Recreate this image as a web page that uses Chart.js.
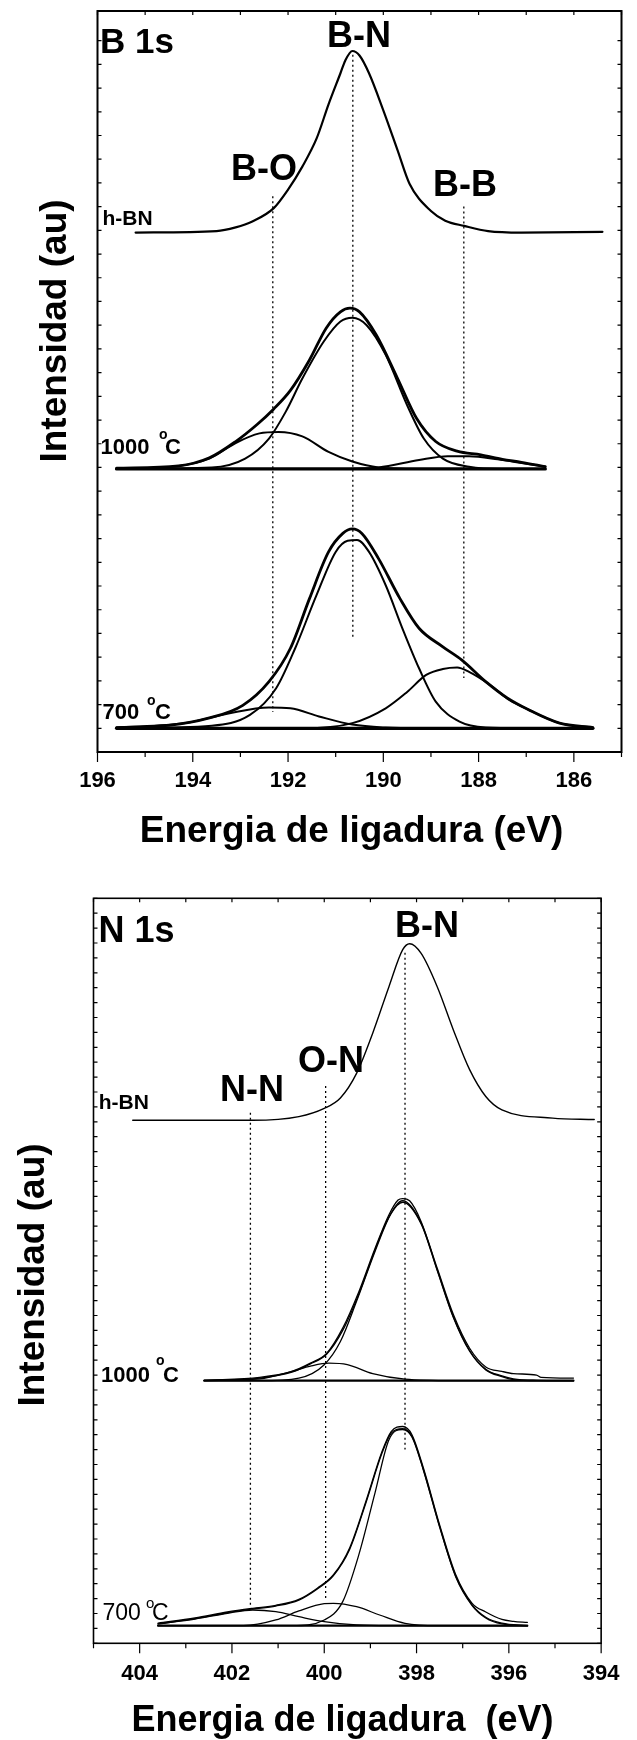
<!DOCTYPE html>
<html>
<head>
<meta charset="utf-8">
<script src="https://cdn.jsdelivr.net/npm/chart.js@4.4.0/dist/chart.umd.min.js"></script>
<style>
  html, body { margin: 0; padding: 0; background: #fff; }
  canvas { display: block; }
</style>
</head>
<body>
<canvas id="b1s" width="637" height="870"></canvas>
<canvas id="n1s" width="637" height="870"></canvas>
<script>
// ---- B 1s (binding energy eV / intensity au, curves stacked) ----
const bHbnE = [195.2, 193.5, 193.1, 192.75, 192.3, 192.0, 191.7, 191.4, 191.15, 190.9, 190.8, 190.65, 190.5, 190.3, 190.0, 189.7, 189.45, 189.0, 188.7, 188.3, 187.8, 187.1, 185.4];
const bHbnI = [70.1, 70.3, 70.8, 71.6, 73.4, 75.9, 79.0, 82.8, 87.4, 91.6, 93.3, 94.6, 94.0, 91.6, 86.6, 81.2, 76.7, 73.0, 71.7, 71.0, 70.3, 70.1, 70.2];

const b1000E = [195.6, 194.3, 193.65, 193.1, 192.65, 192.3, 191.95, 191.55, 191.2, 190.9, 190.7, 190.5, 190.15, 189.7, 189.3, 188.9, 188.45, 187.95, 187.5, 187.1, 186.6];
const b1000I = [38.3, 38.6, 39.7, 41.9, 44.2, 46.3, 48.8, 52.9, 57.2, 59.4, 59.9, 59.4, 56.3, 50.4, 45.0, 41.9, 40.6, 40.1, 39.5, 39.1, 38.5];
const b1000BNE = [195.6, 193.6, 192.9, 192.4, 192.05, 191.7, 191.25, 190.9, 190.65, 190.35, 189.95, 189.5, 189.15, 188.75, 188.2, 187.5, 186.6];
const b1000BNI = [38.2, 38.4, 39.6, 42.3, 45.9, 50.4, 55.4, 58.1, 58.6, 57.6, 53.6, 46.8, 42.3, 39.6, 38.5, 38.2, 38.2];
const b1000BOE = [195.6, 194.85, 193.65, 193.1, 192.6, 192.2, 191.7, 191.15, 190.65, 190.1, 189.25, 186.6];
const b1000BOI = [38.2, 38.3, 39.6, 41.7, 43.0, 43.2, 42.6, 40.5, 39.2, 38.4, 38.2, 38.2];
const b1000BBE = [195.6, 191.0, 190.1, 189.25, 188.65, 188.2, 187.6, 187.1, 186.6];
const b1000BBI = [38.2, 38.2, 38.4, 39.4, 39.9, 39.9, 39.5, 39.0, 38.5];
const b1000BaseE = [195.6, 186.6];
const b1000BaseI = [38.2, 38.2];

const b700E = [195.6, 194.5, 193.65, 192.95, 192.4, 191.95, 191.55, 191.15, 190.85, 190.65, 190.45, 190.1, 189.65, 189.25, 188.75, 188.35, 187.85, 187.4, 186.95, 186.3, 185.6];
const b700I = [3.3, 3.6, 4.6, 6.3, 9.5, 14.0, 20.7, 27.0, 29.5, 30.1, 29.5, 26.1, 20.7, 16.7, 14.2, 12.4, 9.5, 7.3, 5.7, 3.9, 3.3];
const b700BNE = [195.6, 193.6, 192.8, 192.25, 191.85, 191.4, 191.0, 190.75, 190.55, 190.3, 189.95, 189.6, 189.25, 188.9, 188.4, 187.85, 187.1, 185.6];
const b700BNI = [3.2, 3.55, 5.0, 8.6, 14.0, 21.2, 27.0, 28.5, 28.6, 27.0, 22.5, 16.7, 11.3, 6.8, 4.1, 3.3, 3.2, 3.2];
const b700BOE = [195.6, 194.15, 193.25, 192.4, 191.95, 191.35, 190.65, 189.95, 189.25, 185.6];
const b700BOI = [3.3, 3.9, 5.2, 6.0, 5.9, 4.8, 3.7, 3.3, 3.2, 3.2];
const b700BBE = [195.6, 191.7, 190.65, 189.95, 189.5, 189.1, 188.75, 188.45, 188.2, 187.75, 187.35, 186.95, 186.3, 185.6];
const b700BBI = [3.2, 3.2, 3.9, 5.9, 8.1, 10.4, 11.2, 11.4, 10.8, 9.0, 7.0, 5.7, 3.9, 3.3];
const b700BaseE = [195.6, 185.6];
const b700BaseI = [3.2, 3.2];

// dotted reference lines: B-O, B-N, B-B
const bRefE = [192.32, 190.64, 188.31];
const bRefTop = [75.0, 94.1, 73.6];
const bRefBot = [5.4, 15.4, 10.0];

// ---- N 1s ----
const nHbnE = [404.15, 401.55, 400.55, 400.0, 399.65, 399.3, 398.95, 398.6, 398.3, 398.15, 397.9, 397.55, 397.2, 396.85, 396.5, 396.15, 395.05, 394.15];
const nHbnI = [70.2, 70.2, 70.7, 71.8, 73.2, 76.5, 81.9, 88.1, 93.1, 93.9, 92.6, 88.1, 82.3, 77.0, 73.4, 71.6, 70.5, 70.3];

const n1000E = [402.6, 401.4, 400.7, 400.3, 399.95, 399.6, 399.25, 398.9, 398.6, 398.4, 398.3, 398.15, 397.9, 397.55, 397.2, 396.85, 396.5, 396.15, 395.9, 395.4, 395.3, 394.6];
const n1000I = [35.3, 35.7, 36.5, 37.6, 38.9, 42.3, 47.2, 53.0, 57.5, 59.5, 59.7, 59.4, 56.6, 50.3, 44.1, 39.6, 37.1, 36.5, 36.2, 36.0, 35.7, 35.6];
const n1000FitE = [402.6, 401.4, 400.7, 400.3, 399.95, 399.6, 399.25, 398.9, 398.6, 398.3, 397.9, 397.55, 397.2, 396.85, 396.5, 396.15, 395.9, 395.4, 394.6];
const n1000FitI = [35.3, 35.6, 36.4, 37.5, 38.8, 42.0, 46.9, 52.8, 57.2, 59.4, 56.4, 50.1, 43.8, 39.3, 36.8, 35.9, 35.5, 35.3, 35.25];
const n1000BNE = [402.6, 401.4, 400.55, 400.0, 399.65, 399.3, 398.9, 398.55, 398.3, 397.9, 397.55, 397.2, 396.85, 396.5, 396.15, 395.9, 395.4, 394.6];
const n1000BNI = [35.25, 35.25, 35.6, 37.4, 40.5, 45.9, 52.6, 57.7, 59.2, 56.3, 50.0, 43.7, 39.2, 36.7, 35.8, 35.4, 35.25, 35.25];
const n1000ONE = [402.6, 401.4, 400.7, 400.3, 399.9, 399.5, 398.95, 398.25, 397.2, 394.6];
const n1000ONI = [35.25, 35.5, 36.5, 37.2, 37.6, 37.4, 36.2, 35.45, 35.25, 35.25];
const n1000BaseE = [402.6, 394.6];
const n1000BaseI = [35.25, 35.25];

const n700E = [403.6, 402.8, 402.1, 401.55, 401.05, 400.55, 400.15, 399.8, 399.45, 399.1, 398.75, 398.55, 398.3, 398.1, 397.85, 397.5, 397.15, 396.8, 396.5, 396.15, 395.9, 395.6];
const n700I = [2.7, 3.4, 4.2, 4.7, 5.1, 5.9, 7.4, 9.2, 12.8, 19.0, 25.7, 28.4, 29.1, 28.0, 23.5, 15.9, 9.2, 5.4, 4.2, 3.2, 2.95, 2.8];
const n700FitE = [403.6, 402.8, 402.1, 401.55, 401.05, 400.55, 400.15, 399.8, 399.45, 399.1, 398.75, 398.55, 398.3, 398.1, 397.85, 397.5, 397.15, 396.8, 396.5, 396.15, 395.6];
const n700FitI = [2.6, 3.3, 4.1, 4.6, 5.0, 5.8, 7.3, 9.1, 12.6, 18.8, 25.5, 28.2, 28.8, 27.8, 23.3, 15.7, 9.0, 5.2, 3.5, 2.7, 2.36];
const n700NNE = [403.6, 402.8, 402.1, 401.55, 401.05, 400.55, 400.0, 399.3, 398.6, 395.6];
const n700NNI = [2.6, 3.26, 4.03, 4.47, 4.24, 3.57, 2.9, 2.46, 2.36, 2.36];
const n700ONE = [403.6, 401.75, 401.05, 400.55, 400.0, 399.8, 399.3, 398.8, 398.25, 397.55, 395.6];
const n700ONI = [2.36, 2.36, 3.13, 4.34, 5.32, 5.37, 4.91, 3.8, 2.68, 2.36, 2.36];
const n700BNE = [403.6, 400.7, 400.0, 399.6, 399.25, 398.9, 398.6, 398.3, 398.1, 397.85, 397.5, 397.15, 396.8, 396.5, 396.15, 395.6];
const n700BNI = [2.36, 2.36, 3.13, 5.6, 11.9, 20.2, 27.3, 28.7, 27.7, 23.2, 15.6, 8.9, 5.1, 3.4, 2.6, 2.36];
const n700BaseE = [403.6, 395.6];
const n700BaseI = [2.36, 2.36];

// dotted reference lines: N-N, O-N, B-N
const nRefE = [401.6, 399.97, 398.25];
const nRefTop = [71.2, 74.8, 92.7];
const nRefBot = [4.9, 5.8, 26.0];

const fontFam = '"Liberation Sans", Arial, Helvetica, sans-serif';

function series(E, I) {
    return E.map((e, i) => ({ x: e, y: I[i] }));
}

function curve(E, I, w) {
    return {
        data: series(E, I),
        borderColor: '#000',
        borderWidth: w,
        showLine: true,
        pointRadius: 0,
        fill: false,
        cubicInterpolationMode: 'monotone',
        borderCapStyle: 'round',
        borderJoinStyle: 'round'
    };
}

function refLines(E, top, bot) {
    return E.map((e, i) => ({
        data: [{ x: e, y: top[i] }, { x: e, y: bot[i] }],
        borderColor: '#000',
        borderWidth: 1.3,
        borderDash: [2, 3],
        showLine: true,
        pointRadius: 0,
        fill: false
    }));
}

// frame, inward/outward ticks and text annotations
function decor(o) {
    return {
        id: 'decor',
        afterDraw(chart) {
            const ctx = chart.ctx;
            const a = chart.chartArea;
            const xs = chart.scales.x;
            const ys = chart.scales.y;
            ctx.save();
            ctx.strokeStyle = '#000';
            ctx.lineWidth = o.frame;
            ctx.strokeRect(a.left, a.top, a.right - a.left, a.bottom - a.top);

            ctx.lineWidth = 1.2;
            ctx.beginPath();
            xs.ticks.forEach(t => {
                const px = xs.getPixelForValue(t.value);
                const major = t.value % 2 === 0;
                ctx.moveTo(px, a.bottom);
                ctx.lineTo(px, a.bottom + (major ? 10 : 5));
                ctx.moveTo(px, a.top);
                ctx.lineTo(px, a.top + 4);
            });
            ys.ticks.forEach(t => {
                const py = ys.getPixelForValue(t.value);
                ctx.moveTo(a.left, py);
                ctx.lineTo(a.left + 4, py);
                ctx.moveTo(a.right, py);
                ctx.lineTo(a.right - 4, py);
            });
            ctx.stroke();

            ctx.fillStyle = '#000';
            ctx.textBaseline = 'alphabetic';
            o.texts.forEach(l => {
                ctx.font = l.f + ' ' + fontFam;
                ctx.textAlign = l.align || 'left';
                if (l.rot) {
                    ctx.save();
                    ctx.translate(l.x, l.y);
                    ctx.rotate(-Math.PI / 2);
                    ctx.fillText(l.t, 0, 0);
                    ctx.restore();
                } else {
                    ctx.fillText(l.t, l.x, l.y);
                }
            });
            ctx.restore();
        }
    };
}

function makeChart(id, o) {
    return new Chart(document.getElementById(id), {
        type: 'scatter',
        data: { datasets: o.datasets },
        options: {
            responsive: false,
            animation: false,
            events: [],
            layout: { padding: { top: o.top, right: o.right, left: 0, bottom: 0 } },
            plugins: { legend: { display: false }, tooltip: { enabled: false } },
            scales: {
                x: {
                    type: 'linear',
                    reverse: true,
                    min: o.xMin,
                    max: o.xMax,
                    grid: { display: false, drawTicks: false },
                    border: { display: false },
                    ticks: {
                        stepSize: 1,
                        autoSkip: false,
                        maxRotation: 0,
                        padding: o.tickPad,
                        color: '#000',
                        font: { family: fontFam, size: 22, weight: 'bold' },
                        callback: v => (v % 2 === 0 ? String(v) : '')
                    },
                    afterFit: s => { s.height = o.xHeight; }
                },
                y: {
                    min: 0,
                    max: 100,
                    grid: { display: false, drawTicks: false },
                    border: { display: false },
                    ticks: { display: false, stepSize: o.yStep, maxTicksLimit: 100 },
                    afterFit: s => { s.width = o.left; }
                }
            }
        },
        plugins: [decor(o)]
    });
}

makeChart('b1s', {
    top: 11, right: 15, left: 97.5, xHeight: 118,
    xMin: 185, xMax: 196, yStep: 3.2, tickPad: 15.5, frame: 2,
    datasets: [
        ...refLines(bRefE, bRefTop, bRefBot),
        curve(bHbnE, bHbnI, 2.2),
        curve(b1000BaseE, b1000BaseI, 3.2),
        curve(b1000BOE, b1000BOI, 2),
        curve(b1000BBE, b1000BBI, 2),
        curve(b1000BNE, b1000BNI, 2),
        curve(b1000E, b1000I, 2.8),
        curve(b700BaseE, b700BaseI, 3.2),
        curve(b700BOE, b700BOI, 2),
        curve(b700BBE, b700BBI, 2),
        curve(b700BNE, b700BNI, 2),
        curve(b700E, b700I, 2.8)
    ],
    texts: [
        { t: 'B 1s', x: 100, y: 53, f: 'bold 35px' },
        { t: 'B-N', x: 327, y: 47, f: 'bold 36px' },
        { t: 'B-O', x: 231, y: 180, f: 'bold 36px' },
        { t: 'B-B', x: 433, y: 196, f: 'bold 36px' },
        { t: 'h-BN', x: 102.5, y: 225, f: 'bold 21px' },
        { t: '1000', x: 100.5, y: 454, f: 'bold 22px' },
        { t: 'o', x: 159, y: 439, f: 'bold 14px' },
        { t: 'C', x: 165, y: 454, f: 'bold 22px' },
        { t: '700', x: 102.5, y: 719, f: 'bold 22px' },
        { t: 'o', x: 147, y: 705, f: 'bold 14px' },
        { t: 'C', x: 155, y: 719, f: 'bold 22px' },
        { t: 'Energia de ligadura (eV)', x: 351.5, y: 841.5, f: 'bold 37px', align: 'center' },
        { t: 'Intensidad (au)', x: 66, y: 331, f: 'bold 37px', align: 'center', rot: true }
    ]
});

makeChart('n1s', {
    top: 28.3, right: 18, left: 93.5, xHeight: 96.7,
    xMin: 394, xMax: 405, yStep: 2, tickPad: 17.5, frame: 1.6,
    datasets: [
        ...refLines(nRefE, nRefTop, nRefBot),
        curve(nHbnE, nHbnI, 1.4),
        curve(n1000BaseE, n1000BaseI, 2.2),
        curve(n1000ONE, n1000ONI, 1.3),
        curve(n1000BNE, n1000BNI, 1.3),
        curve(n1000FitE, n1000FitI, 1.3),
        curve(n1000E, n1000I, 1.3),
        curve(n700BaseE, n700BaseI, 2.2),
        curve(n700NNE, n700NNI, 1.3),
        curve(n700ONE, n700ONI, 1.3),
        curve(n700BNE, n700BNI, 1.3),
        curve(n700FitE, n700FitI, 1.3),
        curve(n700E, n700I, 1.3)
    ],
    texts: [
        { t: 'N 1s', x: 98.5, y: 72, f: 'bold 36px' },
        { t: 'B-N', x: 395, y: 67, f: 'bold 36px' },
        { t: 'O-N', x: 298, y: 202, f: 'bold 36px' },
        { t: 'N-N', x: 220, y: 231, f: 'bold 36px' },
        { t: 'h-BN', x: 98.7, y: 239, f: 'bold 21px' },
        { t: '1000', x: 101, y: 512, f: 'bold 22px' },
        { t: 'o', x: 156, y: 495, f: 'bold 14px' },
        { t: 'C', x: 163, y: 512, f: 'bold 22px' },
        { t: '700', x: 102.5, y: 749.5, f: '23px' },
        { t: 'o', x: 146, y: 738, f: '15px' },
        { t: 'C', x: 152, y: 749.5, f: '23px' },
        { t: 'Energia de ligadura  (eV)', x: 342.5, y: 861, f: 'bold 36px', align: 'center' },
        { t: 'Intensidad (au)', x: 43.6, y: 405, f: 'bold 37px', align: 'center', rot: true }
    ]
});
</script>
</body>
</html>
